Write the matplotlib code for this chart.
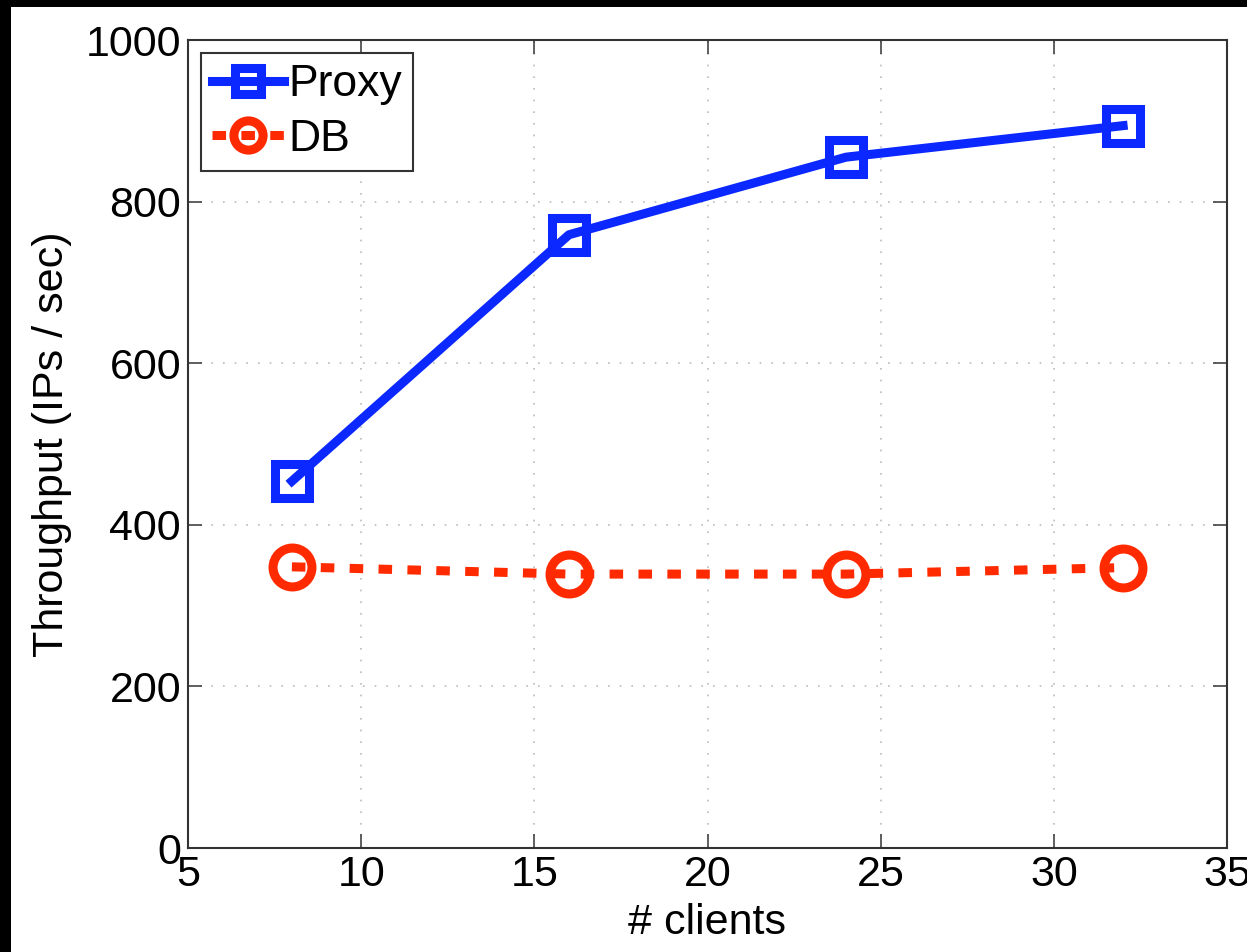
import matplotlib
matplotlib.use("Agg")
import matplotlib.pyplot as plt
from matplotlib.patches import Rectangle

plt.rcParams['font.family'] = ['Liberation Sans', 'DejaVu Sans']

# data
clients = [8, 16, 24, 32]
proxy = [454, 759, 855, 894]
db = [348, 339, 339, 347]

xticks = [5, 10, 15, 20, 25, 30, 35]
yticks = [0, 200, 400, 600, 800, 1000]

fig = plt.figure(figsize=(12.47, 9.52), dpi=100, facecolor='black')
# white page with a thin black strip at the top and left
fig.add_artist(Rectangle((11 / 1247, 0), 1, 1 - 7 / 952,
                         transform=fig.transFigure, facecolor='white',
                         edgecolor='none', zorder=-10))

ax = fig.add_axes([188 / 1247, 1 - 848 / 952, (1227 - 188) / 1247, (848 - 40) / 952])

blue = '#0a28ff'
red = '#ff2a00'

ax.plot(clients, proxy, color=blue, lw=6.5, marker='s', ms=25,
        mfc='none', mec=blue, mew=6.5, label='Proxy')
ax.plot(clients, db, color=red, lw=6.5, dashes=(1.5, 1.7), marker='o', ms=28,
        mfc='none', mec=red, mew=6.5, label='DB')

ax.set_xlim(5, 35)
ax.set_ylim(0, 1000)
ax.set_xticks(xticks)
ax.set_yticks(yticks)
ax.tick_params(direction='in', length=10, width=1.2, top=True, right=True,
               labelsize=31, pad=5, color='#444444')
ax.grid(True, linestyle=(0, (1, 6)), color='#bbbbbb', lw=1.2)
for s in ax.spines.values():
    s.set_linewidth(1.5)
    s.set_color('#333333')

ax.set_xlabel('# clients', fontsize=31, labelpad=6)
ax.set_ylabel('Throughput (IPs / sec)', fontsize=31, labelpad=10)

leg = ax.legend(loc='upper left', fontsize=32, handlelength=1.6,
                handletextpad=0.1, borderpad=0.25, labelspacing=0.3,
                borderaxespad=0.3, fancybox=False, framealpha=1,
                markerscale=0.75)
leg.get_frame().set_edgecolor('#333333')
leg.get_frame().set_linewidth(1.5)

fig.savefig('out.png', dpi=100, facecolor=fig.get_facecolor())
